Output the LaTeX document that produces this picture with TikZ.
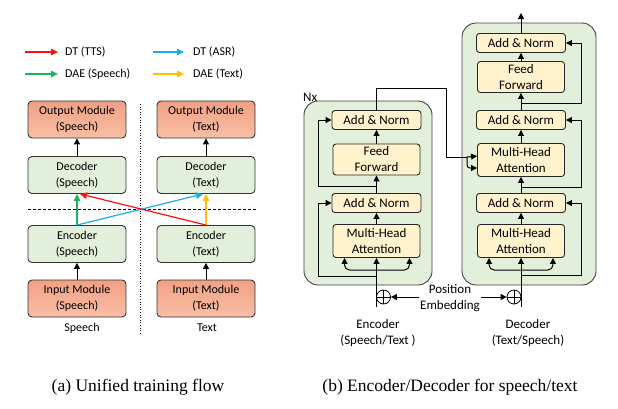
\documentclass[tikz,border=0pt]{standalone}
\usepackage{fontspec}
\setmainfont{Carlito}
\newfontfamily\capfont{Liberation Serif}
\usetikzlibrary{arrows.meta}

\definecolor{boxgreen}{HTML}{E2EFDA}
\definecolor{boxyellow}{HTML}{FFF2CC}
\definecolor{modtop}{HTML}{F0A084}
\definecolor{modbot}{HTML}{F8BFA6}
\definecolor{dtred}{HTML}{FF1010}
\definecolor{dtblue}{HTML}{1CADEA}
\definecolor{daegreen}{HTML}{1DB35A}
\definecolor{daeyellow}{HTML}{FFC000}

\begin{document}
\begin{tikzpicture}[x=1pt, y=-1pt, line join=round, >={Triangle[length=6pt,width=6pt]},
	flow/.style={draw=black!80, line width=0.9pt, rounded corners=4pt, align=center, inner sep=0pt,
		minimum width=98pt, minimum height=37pt, font=\fontsize{12}{16}\selectfont},
	modbox/.style={flow, top color=modtop, bottom color=modbot},
	codbox/.style={flow, fill=boxgreen},
	layer/.style={draw=black!85, line width=0.9pt, rounded corners=3pt, fill=boxyellow, align=center,
		inner sep=0pt, minimum width=87pt, font=\fontsize{13}{16}\selectfont},
	addnorm/.style={layer, minimum width=89pt, minimum height=19pt},
	ffbox/.style={layer, minimum height=31pt},
	attbox/.style={layer, minimum height=33pt},
	stack/.style={draw=black!75, line width=0.9pt, fill=boxgreen, rounded corners=14pt},
	wire/.style={line width=1pt},
	cwire/.style={line width=1.2pt, -{Triangle[length=7pt,width=6.5pt]}},
	legtext/.style={anchor=west, inner sep=0pt, font=\fontsize{12}{14}\selectfont},
	lbl/.style={align=center, inner sep=0pt, font=\fontsize{13}{16}\selectfont},
	oplus/.style={circle, draw, line width=0.8pt, minimum size=14pt, inner sep=0pt,
		path picture={\draw[line width=0.8pt] (path picture bounding box.north) -- (path picture bounding box.south)
			(path picture bounding box.west) -- (path picture bounding box.east);}}]
	\useasboundingbox (0,0) rectangle (618,408);

	% (a) legend
	\coordinate (ttsA) at (25,52); \coordinate (ttsB) at (58,52);
	\coordinate (asrA) at (153,52); \coordinate (asrB) at (184,52);
	\coordinate (spA) at (25,74); \coordinate (spB) at (58,74);
	\coordinate (txA) at (153,74); \coordinate (txB) at (184,74);
	\draw[cwire, dtred] (ttsA) -- (ttsB);
	\draw[cwire, dtblue] (asrA) -- (asrB);
	\draw[cwire, daegreen] (spA) -- (spB);
	\draw[cwire, daeyellow] (txA) -- (txB);
	\node[legtext] (ttsL) at (65,52) {DT (TTS)};
	\node[legtext] (asrL) at (193,52) {DT (ASR)};
	\node[legtext] (spL) at (65,74) {DAE (Speech)};
	\node[legtext] (txL) at (193,74) {DAE (Text)};

	% (a) flow
	\draw[line width=0.7pt, dash pattern=on 1pt off 1.6pt] (140,104) -- (140,333);
	\draw[line width=0.7pt, dash pattern=on 3pt off 2pt] (28,209) -- (257,209);
	\node[modbox] (outS) at (77,119.5) {Output Module\\(Speech)};
	\node[modbox] (outT) at (206,119.5) {Output Module\\(Text)};
	\node[codbox] (decS) at (77,175) {Decoder\\(Speech)};
	\node[codbox] (decT) at (206,175) {Decoder\\(Text)};
	\node[codbox] (encS) at (77,244) {Encoder\\(Speech)};
	\node[codbox] (encT) at (206,244) {Encoder\\(Text)};
	\node[modbox] (inS) at (77,298.5) {Input Module\\(Speech)};
	\node[modbox] (inT) at (206,298.5) {Input Module\\(Text)};
	\node[lbl, font=\fontsize{12}{16}\selectfont] (spLbl) at (82,328) {Speech};
	\node[lbl, font=\fontsize{12}{16}\selectfont] (txLbl) at (207,328) {Text};
	\foreach \a/\b in {inS/encS, inT/encT, decS/outS, decT/outT}
		\draw[->, wire] (\a) -- (\b);
	\draw[cwire, daegreen] (encS.north) -- (decS.south);
	\draw[cwire, daeyellow] (encT.north) -- (decT.south);
	\draw[cwire, dtblue] (encS.north) -- ([xshift=-3]decT.south);
	\draw[cwire, dtred] (encT.north) -- ([xshift=3]decS.south);

	% (b) encoder stack
	\draw[stack] (304,101) rectangle (432,285);
	\node[lbl, anchor=south west] (nx) at (303,102) {Nx};
	\node[addnorm] (eAN2) at (376.5,120) {Add \& Norm};
	\node[ffbox] (eFF) at (376.5,159.5) {Feed\\Forward};
	\node[addnorm] (eAN1) at (376.5,203) {Add \& Norm};
	\node[attbox] (eMHA) at (376.5,241) {Multi-Head\\Attention};
	\foreach \a/\b in {eMHA/eAN1, eAN1/eFF, eFF/eAN2}
		\draw[->, wire] (\a) -- (\b);
	\coordinate (eIn) at (376.5,307);
	\coordinate (eSplit) at (376.5,270);
	\coordinate (eTap1) at (376.5,276);
	\coordinate (eTap2) at (376.5,186.5);
	\draw[->, wire] (eIn) -- (eMHA.south);
	\draw[->, wire, rounded corners=5pt] (eSplit) -| ([xshift=12]eMHA.south west);
	\draw[->, wire, rounded corners=5pt] (eSplit) -| ([xshift=-11]eMHA.south east);
	\draw[->, wire] (eTap1) -- ++(-58,0) |- (eAN1.west);
	\draw[->, wire] (eTap2) -- ++(-58,0) |- (eAN2.west);

	% (b) decoder stack
	\draw[stack] (462,23) rectangle (596,285);
	\node[addnorm] (dAN3) at (521,43) {Add \& Norm};
	\node[ffbox] (dFF) at (521,77) {Feed\\Forward};
	\node[addnorm] (dAN2) at (521,120) {Add \& Norm};
	\node[attbox] (dMHA2) at (521,160) {Multi-Head\\Attention};
	\node[addnorm] (dAN1) at (521,203) {Add \& Norm};
	\node[attbox] (dMHA1) at (521,241) {Multi-Head\\Attention};
	\foreach \a/\b in {dMHA1/dAN1, dAN1/dMHA2, dMHA2/dAN2, dAN2/dFF, dFF/dAN3}
		\draw[->, wire] (\a) -- (\b);
	\coordinate (dOut) at (521,13);
	\coordinate (dIn) at (521,307);
	\coordinate (dSplit) at (521,270);
	\coordinate (dTap1) at (521,275);
	\coordinate (dTap2) at (521,187);
	\coordinate (dTap3) at (521,103);
	\draw[->, wire] (dAN3) -- (dOut);
	\draw[->, wire] (dIn) -- (dMHA1.south);
	\draw[->, wire, rounded corners=5pt] (dSplit) -| ([xshift=12]dMHA1.south west);
	\draw[->, wire, rounded corners=5pt] (dSplit) -| ([xshift=-12]dMHA1.south east);
	\foreach \t/\n in {dTap1/dAN1, dTap2/dAN2, dTap3/dAN3}
		\draw[->, wire] (\t) -- ++(60.5,0) |- (\n.east);

	% encoder output into decoder attention
	\coordinate (kv) at (467,157);
	\draw[wire] (eAN2.north) |- (446.5,88) |- (kv);
	\draw[->, wire] (kv) -- ([yshift=4]dMHA2.west);
	\draw[->, wire, rounded corners=3pt] (kv) |- ([yshift=-8]dMHA2.west);

	% position embedding
	\node[oplus] (eAdd) at (383.5,297) {};
	\node[oplus] (dAdd) at (514,297) {};
	\node[lbl] (pos) at (450,298) {Position\\Embedding};
	\draw[->, wire] (pos.west |- eAdd) ++(-1,0) -- (eAdd);
	\draw[->, wire] (pos.east |- dAdd) ++(1,0) -- (dAdd);
	\node[lbl] (encLbl) at (378,333) {Encoder\\(Speech/Text )};
	\node[lbl] (decLbl) at (528,333) {Decoder\\(Text/Speech)};

	% captions
	\node[font=\capfont\fontsize{17.5}{20}\selectfont, inner sep=0pt] (capA) at (138,387) {(a) Unified training flow};
	\node[font=\capfont\fontsize{17.5}{20}\selectfont, inner sep=0pt] (capB) at (450,387) {(b) Encoder/Decoder for speech/text};
\end{tikzpicture}
\end{document}
